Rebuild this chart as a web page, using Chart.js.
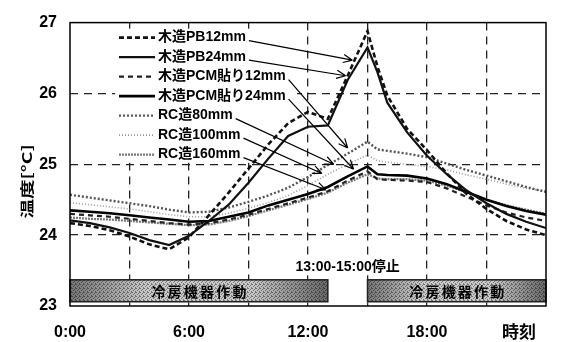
<!DOCTYPE html>
<html>
<head>
<meta charset="utf-8">
<script src="https://cdn.jsdelivr.net/npm/chart.js@4/dist/chart.umd.min.js"></script>
<style>
  html, body { margin: 0; padding: 0; background: #fff; }
  #wrap { width: 563px; height: 342px; }
</style>
</head>
<body>
<div id="wrap"><canvas id="c" width="563" height="342"></canvas></div>
<script>
// Time of day (hours) at which room temperature was sampled
const hours = [0,1,2,3,4,5,6,7,8,9,10,11,12,13,14,15,15.5,16,17,18,19,20,21,22,23,24];

// Room temperature [°C] for each wall construction
const pb12  = [24.17,24.13,24.07,23.98,23.87,23.80,23.97,24.28,24.60,24.94,25.28,25.58,25.74,25.64,26.25,26.88,26.38,25.97,25.50,25.20,24.87,24.58,24.37,24.20,24.08,24.00];
const pb24  = [24.21,24.17,24.11,24.03,23.93,23.86,23.99,24.20,24.43,24.74,25.08,25.40,25.53,25.55,26.19,26.65,26.30,25.87,25.45,25.12,24.86,24.63,24.45,24.30,24.19,24.10];
const pcm12 = [24.30,24.28,24.26,24.23,24.20,24.17,24.15,24.17,24.22,24.29,24.37,24.45,24.53,24.62,24.77,24.90,24.79,24.78,24.77,24.75,24.66,24.54,24.42,24.32,24.25,24.20];
const pcm24 = [24.35,24.33,24.31,24.28,24.25,24.22,24.19,24.20,24.26,24.32,24.42,24.50,24.58,24.68,24.83,24.97,24.86,24.85,24.84,24.80,24.72,24.61,24.50,24.41,24.34,24.29];
const rc80  = [24.57,24.53,24.49,24.45,24.41,24.36,24.32,24.33,24.39,24.47,24.56,24.67,24.82,24.99,25.15,25.32,25.21,25.19,25.15,25.10,25.01,24.92,24.84,24.76,24.68,24.61];
const rc100 = [24.46,24.43,24.40,24.37,24.33,24.29,24.26,24.26,24.31,24.38,24.46,24.56,24.70,24.86,25.00,25.13,25.05,25.03,25.00,24.97,24.92,24.85,24.79,24.72,24.66,24.62];
const rc160 = [24.25,24.23,24.22,24.20,24.18,24.16,24.14,24.15,24.20,24.27,24.35,24.43,24.51,24.60,24.74,24.86,24.80,24.79,24.79,24.77,24.70,24.60,24.50,24.42,24.36,24.30];

const seriesNames = ['木造PB12mm','木造PB24mm','木造PCM貼り12mm','木造PCM貼り24mm','RC造80mm','RC造100mm','RC造160mm'];

// Where each legend leader arrow lands: [hour, °C]
const arrowTargets = [[14.24,26.47],[13.9,26.25],[14.0,25.23],[14.3,24.93],[13.3,25.0],[12.7,24.87],[12.9,24.64]];

// Axis ticks
const timeTicks = [0, 6, 12, 18];
const timeTickLabels = ['0:00', '6:00', '12:00', '18:00'];
const timeAxisName = '時刻';
const tempAxisName = '温度[°C]';

// Cooling operation periods [start hour, end hour] and their band on the temperature axis
const coolingPeriods = [[0, 13], [15, 24]];
const coolingBand = [23.06, 23.37];
const coolingLabel = '冷房機器作動';
const stopNote = { text: '13:00-15:00停止', x: 14, y: 23.56 };

const LATIN = '"Liberation Sans", Arial, "Noto Sans CJK JP", sans-serif';
const CJK = '"Noto Sans CJK JP", "Liberation Sans", sans-serif';

const styles = [
  { color: '#111', width: 2.6, dash: [5, 3] },
  { color: '#111', width: 2.2, dash: [] },
  { color: '#222', width: 2.2, dash: [5, 4] },
  { color: '#000', width: 2.6, dash: [] },
  { color: '#555', width: 2.4, dash: [2, 2] },
  { color: '#9a9a9a', width: 1.6, dash: [1, 2] },
  { color: '#777', width: 2.2, dash: [2, 1] }
];
const values = [pb12, pb24, pcm12, pcm24, rc80, rc100, rc160];

const datasets = values.map((vals, i) => ({
  label: seriesNames[i],
  data: hours.map((h, k) => ({ x: h, y: vals[k] })),
  borderColor: styles[i].color,
  borderWidth: styles[i].width,
  borderDash: styles[i].dash,
  pointRadius: 0,
  tension: 0,
  fill: false
}));

// legend block placement, relative to the plot area
const legendBox = { dx: 45, dy: 6, w: 182, h: 134 };
const legendRow = { sampleDx: 49, sampleLen: 36, textDx: 88, firstDy: 15, gap: 19.5 };

function stipplePattern(ctx) {
  const p = document.createElement('canvas');
  p.width = 4; p.height = 4;
  const c = p.getContext('2d');
  c.fillStyle = 'rgba(0,0,0,0.42)';
  [[0,0],[2,1],[1,2],[3,3],[3,0]].forEach(([a, b]) => c.fillRect(a, b, 1, 1));
  return ctx.createPattern(p, 'repeat');
}

function spacedText(ctx, text, cx, cy, gap) {
  const chars = Array.from(text);
  const widths = chars.map(ch => ctx.measureText(ch).width);
  const total = widths.reduce((s, w) => s + w, 0) + gap * (chars.length - 1);
  let x = cx - total / 2;
  ctx.textAlign = 'left';
  chars.forEach((ch, i) => { ctx.fillText(ch, x, cy); x += widths[i] + gap; });
}

const decorations = {
  id: 'decorations',
  beforeDatasetsDraw(chart) {
    const { ctx, chartArea: a, scales: { x, y } } = chart;
    ctx.save();
    // white block under the legend hides the grid there
    ctx.fillStyle = '#fff';
    ctx.fillRect(a.left + legendBox.dx, a.top + legendBox.dy, legendBox.w, legendBox.h);

    // operation bars along the bottom of the plot
    const pat = stipplePattern(ctx);
    coolingPeriods.forEach(([s, e]) => {
      const x0 = x.getPixelForValue(s), x1 = x.getPixelForValue(e);
      const y0 = y.getPixelForValue(coolingBand[1]), y1 = y.getPixelForValue(coolingBand[0]);
      const g = ctx.createLinearGradient(x0, 0, x1, 0);
      g.addColorStop(0, '#767676');
      g.addColorStop(0.3, '#cacaca');
      g.addColorStop(0.7, '#cacaca');
      g.addColorStop(1, '#686868');
      ctx.fillStyle = g;
      ctx.fillRect(x0, y0, x1 - x0, y1 - y0);
      ctx.fillStyle = pat;
      ctx.fillRect(x0, y0, x1 - x0, y1 - y0);
      ctx.strokeStyle = '#222';
      ctx.lineWidth = 1.5;
      ctx.strokeRect(x0, y0, x1 - x0, y1 - y0);
      ctx.fillStyle = '#000';
      ctx.font = 'bold 14px ' + CJK;
      ctx.textBaseline = 'middle';
      spacedText(ctx, coolingLabel, (x0 + x1) / 2, (y0 + y1) / 2 + 1, 2.2);
    });
    // note for the pause, on a white backing
    ctx.font = 'bold 14px ' + LATIN;
    ctx.textAlign = 'center';
    ctx.textBaseline = 'middle';
    const nx = x.getPixelForValue(stopNote.x), ny = y.getPixelForValue(stopNote.y) + 1;
    const nw = ctx.measureText(stopNote.text).width;
    ctx.fillStyle = '#fff';
    ctx.fillRect(nx - nw / 2 - 2, ny - 8, nw + 4, 16);
    ctx.fillStyle = '#000';
    ctx.fillText(stopNote.text, nx, ny);
    ctx.restore();
  },
  afterDatasetsDraw(chart) {
    const { ctx, chartArea: a, scales: { x, y } } = chart;
    ctx.save();
    // plot frame
    ctx.setLineDash([]);
    ctx.strokeStyle = '#000';
    ctx.lineWidth = 1.5;
    ctx.strokeRect(a.left, a.top, a.right - a.left, a.bottom - a.top);

    // legend with leader arrows
    const sampleX = a.left + legendRow.sampleDx, textX = a.left + legendRow.textDx;
    ctx.font = 'bold 14px ' + LATIN;
    ctx.textBaseline = 'middle';
    ctx.textAlign = 'left';
    chart.data.datasets.forEach((ds, i) => {
      const ry = a.top + legendRow.firstDy + i * legendRow.gap;
      ctx.save();
      ctx.strokeStyle = ds.borderColor;
      ctx.lineWidth = ds.borderWidth;
      ctx.setLineDash(ds.borderDash);
      ctx.beginPath();
      ctx.moveTo(sampleX, ry);
      ctx.lineTo(sampleX + legendRow.sampleLen, ry);
      ctx.stroke();
      ctx.restore();
      ctx.fillStyle = '#000';
      ctx.fillText(ds.label, textX, ry);
      const w = ctx.measureText(ds.label).width;
      const sx = textX + w + 3, sy = ry + 3;
      const tx = x.getPixelForValue(arrowTargets[i][0]);
      const ty = y.getPixelForValue(arrowTargets[i][1]);
      ctx.strokeStyle = '#000';
      ctx.lineWidth = 1.2;
      ctx.setLineDash([]);
      ctx.beginPath();
      ctx.moveTo(sx, sy);
      ctx.lineTo(tx, ty);
      const ang = Math.atan2(ty - sy, tx - sx);
      const hl = 10, spread = 0.42;
      ctx.moveTo(tx, ty);
      ctx.lineTo(tx - hl * Math.cos(ang - spread), ty - hl * Math.sin(ang - spread));
      ctx.moveTo(tx, ty);
      ctx.lineTo(tx - hl * Math.cos(ang + spread), ty - hl * Math.sin(ang + spread));
      ctx.stroke();
    });
    ctx.restore();
  },
  afterDraw(chart) {
    const { ctx, chartArea: a } = chart;
    ctx.save();
    ctx.fillStyle = '#000';
    // time axis name, on the tick label row at the right end
    ctx.font = 'bold 17px ' + CJK;
    ctx.textAlign = 'center';
    ctx.textBaseline = 'middle';
    ctx.fillText(timeAxisName, a.right - 27, a.bottom + 26);
    // temperature axis name, rotated
    ctx.translate(27, (a.top + a.bottom) / 2 + 17);
    ctx.rotate(-Math.PI / 2);
    ctx.scale(1.3, 0.9);
    ctx.font = 'bold 15px ' + CJK;
    ctx.fillText(tempAxisName, 0, 0);
    ctx.restore();
  }
};

new Chart(document.getElementById('c'), {
  type: 'line',
  data: { datasets },
  options: {
    responsive: false,
    animation: false,
    events: [],
    layout: { padding: { top: 18, right: 1, left: 0, bottom: 0 } },
    plugins: { legend: { display: false }, tooltip: { enabled: false } },
    scales: {
      x: {
        type: 'linear',
        min: 0, max: 24,
        afterFit: s => { s.height = 36; },
        afterBuildTicks: s => { s.ticks = [0,3,6,9,12,15,18,21,24].map(v => ({ value: v })); },
        ticks: {
          autoSkip: false, maxRotation: 0, padding: 17,
          color: '#000',
          font: { family: LATIN, size: 16, weight: 'bold' },
          callback: v => { const k = timeTicks.indexOf(v); return k >= 0 ? timeTickLabels[k] : ''; }
        },
        grid: {
          drawTicks: false,
          lineWidth: 1.3,
          color: ctx => (ctx.tick && (ctx.tick.value === 0 || ctx.tick.value === 24)) ? 'rgba(0,0,0,0)' : '#222'
        },
        border: { display: false, dash: [8, 6] }
      },
      y: {
        min: 23, max: 27,
        afterFit: s => { s.width = 70; },
        ticks: {
          stepSize: 1, padding: 13,
          color: '#000',
          font: { family: LATIN, size: 16, weight: 'bold' }
        },
        grid: {
          drawTicks: false,
          lineWidth: 1.3,
          color: ctx => (ctx.tick && (ctx.tick.value === 23 || ctx.tick.value === 27)) ? 'rgba(0,0,0,0)' : '#222'
        },
        border: { display: false, dash: [8, 6] }
      }
    }
  },
  plugins: [decorations]
});
</script>
</body>
</html>
